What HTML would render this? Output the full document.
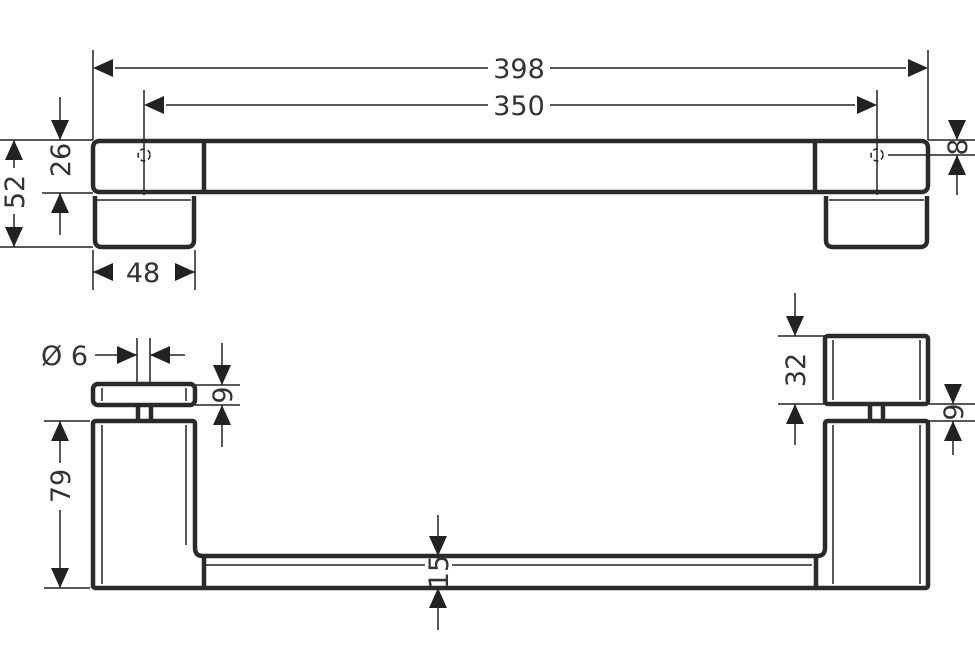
<!DOCTYPE html>
<html><head><style>html,body{margin:0;padding:0;background:#fff}svg{display:block}</style></head><body>
<svg width="975" height="661" viewBox="0 0 975 661" xmlns="http://www.w3.org/2000/svg" font-family="DejaVu Sans, Liberation Sans, sans-serif" font-size="27" fill="#333">
<g stroke="#222" stroke-width="1.5" fill="none">
<path d="M93,50V140M928,50V140M144,90V195M877,90V195M0,140H93M0,247H93M42,193H93M93,250V290M195,250V290M928,140H975M888,155H975"/>
<path d="M115,68H488M550,68H906" />
<path d="M93,68l20,-9v18z M928,68l-20,-9v18z" fill="#222" stroke="none"/>
<path d="M166,105H488M550,105H855"/>
<path d="M144,105l20,-9v18z M877,105l-20,-9v18z" fill="#222" stroke="none"/>
<path d="M14,140V168M14,214V247"/>
<path d="M14,140l-9,20h18z M14,247l-9,-20h18z" fill="#222" stroke="none"/>
<path d="M60,97V140M60,193V235"/>
<path d="M60,140l-9,-20h18z M60,193l-9,20h18z" fill="#222" stroke="none"/>
<path d="M93,272h20M175,272h20"/>
<path d="M93,272l20,-9v18z M195,272l-20,-9v18z" fill="#222" stroke="none"/>
<path d="M957,120V140M957,155V195"/>
<path d="M957,140l-9,-20h18z M957,155l-9,20h18z" fill="#222" stroke="none"/>
<path d="M137,338V385M150,338V385M95,355H137M150,355H185"/>
<path d="M137,355l-20,-9v18z M150,355l20,-9v18z" fill="#222" stroke="none"/>
<path d="M195,385H240M195,405H240M222,343V385M222,405V447"/>
<path d="M222,385l-9,-20h18z M222,405l-9,20h18z" fill="#222" stroke="none"/>
<path d="M44,421H90M44,588H90M60,421V463M60,510V588"/>
<path d="M60,421l-9,20h18z M60,588l-9,-20h18z" fill="#222" stroke="none"/>
<path d="M438,515V556M438,588V630"/>
<path d="M438,556l-9,-20h18z M438,588l-9,20h18z" fill="#222" stroke="none"/>
<path d="M778,336H825M778,404H825M795,293V336M795,404V445"/>
<path d="M795,336l-9,-20h18z M795,404l-9,20h18z" fill="#222" stroke="none"/>
<path d="M928,404H975M928,421H975M953,385V404M953,421V455"/>
<path d="M953,404l-9,-20h18z M953,421l-9,20h18z" fill="#222" stroke="none"/>
<path d="M97,200H191M829,200H924M102,425V584M186,425V545M833,425V584M920,425V584M833,340V400M920,340V400M203,565H425M452,565H812M102,388V401M186,388V401"/>
<circle cx="144" cy="155" r="6" stroke-dasharray="5 3"/>
<circle cx="877" cy="155" r="6" stroke-dasharray="5 3"/>
</g>
<g stroke="#2a2a2a" stroke-width="4.5" fill="none" stroke-linejoin="round">
<path d="M100,141H921Q928,141 928,148V185Q928,192 921,192H100Q93,192 93,185V148Q93,141 100,141z"/>
<path d="M204,141V192M815,141V192"/>
<path d="M95,196V240Q95,247 102,247H187Q194,247 194,240V196"/>
<path d="M826,196V240Q826,247 833,247H920Q927,247 927,240V196"/>
<rect x="93" y="384" width="102" height="21" rx="5"/>
<path d="M138,405V421M151,405V421"/>
<path d="M93,588V424Q93,421 96,421H192Q195,421 195,424V548Q195,556 203,556H817Q825,556 825,548V424Q825,421 828,421H925Q928,421 928,424V585Q928,588 925,588H96Q93,588 93,585"/>
<path d="M204,556V588M816,556V588"/>
<rect x="825" y="336" width="103" height="68" rx="3"/>
<path d="M870,404V421M883,404V421"/>
</g>
<g stroke="none" fill="#333">
<text x="519" y="78" text-anchor="middle">398</text>
<text x="519" y="115" text-anchor="middle">350</text>
<text x="143" y="282" text-anchor="middle">48</text>
<text x="88" y="365" text-anchor="end">Ø 6</text>
<text transform="translate(24,192) rotate(-90)" text-anchor="middle">52</text>
<text transform="translate(70,160) rotate(-90)" text-anchor="middle">26</text>
<text transform="translate(967,147) rotate(-90)" text-anchor="middle">8</text>
<text transform="translate(232,395) rotate(-90)" text-anchor="middle">9</text>
<text transform="translate(70,486) rotate(-90)" text-anchor="middle">79</text>
<text transform="translate(448,572) rotate(-90)" text-anchor="middle">15</text>
<text transform="translate(805,370) rotate(-90)" text-anchor="middle">32</text>
<text transform="translate(963,412) rotate(-90)" text-anchor="middle">9</text>
</g>
</svg>
</body></html>
